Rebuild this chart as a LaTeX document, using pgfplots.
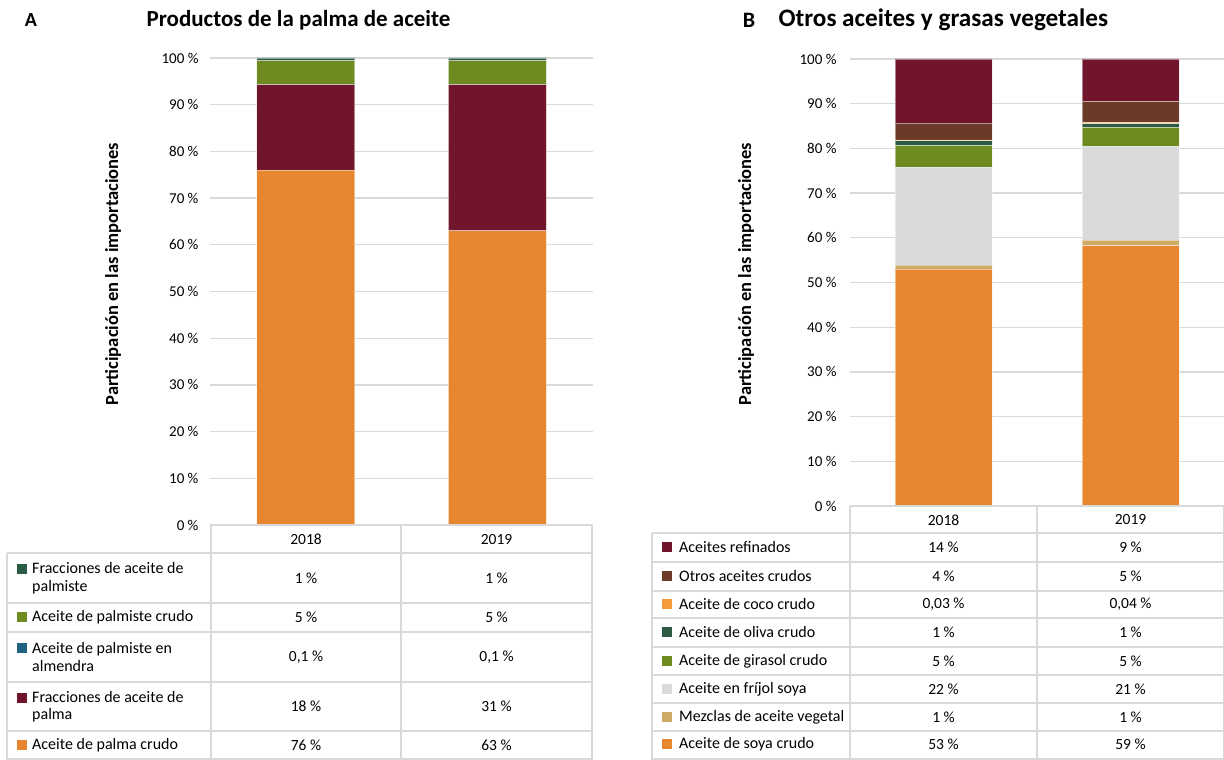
\documentclass[border=0pt]{standalone}
\usepackage{pgfplots}
\usepackage{pgfplotstable}
\pgfplotsset{compat=1.18}
\usepackage{fontspec}
\setmainfont{Carlito}

\definecolor{cOrange}{HTML}{E8862F}
\definecolor{cCoco}{HTML}{F79A3B}
\definecolor{cRed}{HTML}{71152D}
\definecolor{cGreen}{HTML}{6E8B20}
\definecolor{cDkGreen}{HTML}{2B5B45}
\definecolor{cBlue}{HTML}{1F6380}
\definecolor{cBrown}{HTML}{6B3A28}
\definecolor{cGrey}{HTML}{D9DADC}
\definecolor{cTan}{HTML}{CEAA66}
\definecolor{cLine}{HTML}{D9D9D9}

% panel A, bottom to top
\pgfplotstableread{
x palmacrudo fracpalma almendra palmistecrudo fracpalmiste
0 76.0 18.3 0.1 5.0 0.6
1 63.0 31.3 0.1 5.0 0.6
}\tabA

% panel B, bottom to top
\pgfplotstableread{
x soyacrudo mezclas frijol girasol oliva coco otros refinados
0 53.0 0.9 21.9 4.8 1.1 0.2 3.8 14.3
1 58.2 1.3 20.9 4.3 0.8 0.3 4.7 9.5
}\tabB

\pgfplotsset{
  pan/.style={
    scale only axis,
    ybar stacked,
    ymin=0, ymax=100,
    xmin=-0.5, xmax=1.5,
    xtick=\empty,
    ytick={0,10,...,100},
    major tick length=0pt,
    axis line style={draw=none},
    ymajorgrids,
    grid style={cLine, line width=1.3pt},
    /pgf/number format/assume math mode=true,
    yticklabel={\pgfmathprintnumber{\tick}~\%},
    yticklabel style={font=\fontsize{15}{17}\selectfont},
    clip=false,
  },
  seg/.style={fill=#1, draw=white, draw opacity=0.45, line width=0.7pt},
}

\newcommand\tabfont{\fontsize{16}{17.5}\selectfont}
\newcommand\valfont{\fontsize{15.5}{17}\selectfont}

\begin{document}
\begin{tikzpicture}[x=1pt,y=1pt]
\useasboundingbox (0,0) rectangle (1224,760);

% ---------- panel A ----------
\begin{axis}[pan, at={(210pt,235pt)}, anchor=south west,
  width=383pt, height=467pt, bar width=98pt,
  yticklabel style={xshift=-8pt}]
  \addplot[seg=cOrange] table[x=x,y=palmacrudo]{\tabA};
  \addplot[seg=cRed] table[x=x,y=fracpalma]{\tabA};
  \addplot[seg=cBlue] table[x=x,y=almendra]{\tabA};
  \addplot[seg=cGreen] table[x=x,y=palmistecrudo]{\tabA};
  \addplot[seg=cDkGreen] table[x=x,y=fracpalmiste]{\tabA};
\end{axis}

% ---------- panel B ----------
\begin{axis}[pan, at={(850pt,254pt)}, anchor=south west,
  width=374pt, height=447pt, bar width=97pt,
  yticklabel style={xshift=-10pt}]
  \addplot[seg=cOrange] table[x=x,y=soyacrudo]{\tabB};
  \addplot[seg=cTan] table[x=x,y=mezclas]{\tabB};
  \addplot[seg=cGrey] table[x=x,y=frijol]{\tabB};
  \addplot[seg=cGreen] table[x=x,y=girasol]{\tabB};
  \addplot[seg=cDkGreen] table[x=x,y=oliva]{\tabB};
  \addplot[seg=cCoco] table[x=x,y=coco]{\tabB};
  \addplot[seg=cBrown] table[x=x,y=otros]{\tabB};
  \addplot[seg=cRed] table[x=x,y=refinados]{\tabB};
\end{axis}

% titles
\node[font=\bfseries\fontsize{20}{24}\selectfont] at (31,740) {A};
\node[font=\bfseries\fontsize{23}{26}\selectfont, anchor=west] at (143,740) {Productos de la palma de aceite};
\node[font=\bfseries\fontsize{22}{24}\selectfont] at (749,740) {B};
\node[font=\bfseries\fontsize{25.2}{28}\selectfont, anchor=west] at (775,740) {Otros aceites y grasas vegetales};

% y labels
\node[rotate=90, font=\bfseries\fontsize{18.5}{20}\selectfont] at (113,486) {Participación en las importaciones};
\node[rotate=90, font=\bfseries\fontsize{18.5}{20}\selectfont] at (746,486) {Participación en las importaciones};

% ---------- table A ----------
\begin{scope}[cLine, line width=1.2pt]
  \draw (211,235) -- (592,235);
  \foreach \yy in {553,603,632,682,731,759} \draw (7,760-\yy) -- (592,760-\yy);
  \draw (7,760-553) -- (7,0);
  \foreach \xx in {211,401,592} \draw (\xx,235) -- (\xx,0);
\end{scope}
\node[font=\valfont] at (306,760-539.5) {2018};
\node[font=\valfont] at (496.5,760-539.5) {2019};
\foreach \c/\yc/\two/\lab/\va/\vb in {
  cDkGreen/578/1/{Fracciones de aceite de\\palmiste}/{1~\%}/{1~\%},
  cGreen/617.5/0/{Aceite de palmiste crudo}/{5~\%}/{5~\%},
  cBlue/657/1/{Aceite de palmiste en\\almendra}/{0,1~\%}/{0,1~\%},
  cRed/706.5/1/{Fracciones de aceite de\\palma}/{18~\%}/{31~\%},
  cOrange/745.5/0/{Aceite de palma crudo}/{76~\%}/{63~\%}}{
  \pgfmathsetmacro\sq{760-\yc+8.5*\two}
  \fill[\c] (17,\sq-5) rectangle ++(10,10);
  \node[font=\tabfont, anchor=west, align=left, inner sep=0pt] at (32,760-\yc) {\lab};
  \node[font=\valfont] at (306,760-\yc) {\va};
  \node[font=\valfont] at (496.5,760-\yc) {\vb};
}

% ---------- table B ----------
\begin{scope}[cLine, line width=1.2pt]
  \draw (850,254) -- (1224,254);
  \foreach \yy in {533,562,591,618,647,675,703,731,759} \draw (652,760-\yy) -- (1224,760-\yy);
  \draw (652,760-533) -- (652,0);
  \foreach \xx in {850,1037,1223.5} \draw (\xx,254) -- (\xx,0);
\end{scope}
\node[font=\valfont] at (943.5,760-520) {2018};
\node[font=\valfont] at (1130.5,760-520) {2019};
\foreach \c/\yc/\lab/\va/\vb in {
  cRed/547.5/{Aceites refinados}/{14~\%}/{9~\%},
  cBrown/576.5/{Otros aceites crudos}/{4~\%}/{5~\%},
  cCoco/604.5/{Aceite de coco crudo}/{0,03~\%}/{0,04~\%},
  cDkGreen/632.5/{Aceite de oliva crudo}/{1~\%}/{1~\%},
  cGreen/661/{Aceite de girasol crudo}/{5~\%}/{5~\%},
  cGrey/689/{Aceite en fríjol soya}/{22~\%}/{21~\%},
  cTan/717/{Mezclas de aceite vegetal}/{1~\%}/{1~\%},
  cOrange/744.5/{Aceite de soya crudo}/{53~\%}/{59~\%}}{
  \fill[\c] (662,760-\yc-5) rectangle ++(10,10);
  \node[font=\tabfont, anchor=west, inner sep=0pt] at (679,760-\yc) {\lab};
  \node[font=\valfont] at (943.5,760-\yc) {\va};
  \node[font=\valfont] at (1130.5,760-\yc) {\vb};
}
\end{tikzpicture}
\end{document}
